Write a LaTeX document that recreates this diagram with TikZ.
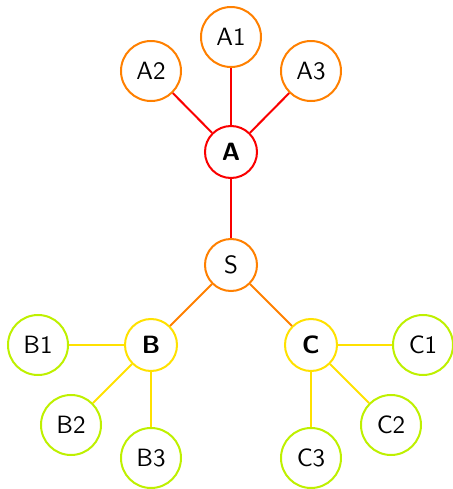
\documentclass[tikz,border=0pt]{standalone}
\usepackage{tikz}

\definecolor{treeRed}{RGB}{250,0,0}
\definecolor{treeOrange}{RGB}{255,128,0}
\definecolor{treeYellow}{RGB}{255,225,0}
\definecolor{treeLime}{RGB}{190,240,0}

\tikzset{
  knot/.style={circle, draw, line width=0.8pt, font=\sffamily, inner sep=0pt},
  bigknot/.style={knot, minimum size=24pt},
  smallknot/.style={knot, minimum size=20.8pt},
  link/.style={line width=0.8pt}
}

\begin{document}
\begin{tikzpicture}[x=0.4pt, y=0.4pt]
\useasboundingbox (0,0) rectangle (453,489);

% center
\node[smallknot, draw=treeOrange] (S) at (231,224) {S};

% upper branch
\node[smallknot, draw=treeRed, font=\sffamily\bfseries] (A) at (231,337) {A};
\node[bigknot, draw=treeOrange] (A1) at (231,452) {A1};
\node[bigknot, draw=treeOrange] (A2) at (151,418) {A2};
\node[bigknot, draw=treeOrange] (A3) at (311,418) {A3};

% left branch
\node[smallknot, draw=treeYellow, font=\sffamily\bfseries] (B) at (151,144) {B};
\node[bigknot, draw=treeLime] (B1) at (38,144) {B1};
\node[bigknot, draw=treeLime] (B2) at (71,64) {B2};
\node[bigknot, draw=treeLime] (B3) at (151,31) {B3};

% right branch
\node[smallknot, draw=treeYellow, font=\sffamily\bfseries] (C) at (311,144) {C};
\node[bigknot, draw=treeLime] (C1) at (423,144) {C1};
\node[bigknot, draw=treeLime] (C2) at (391,64) {C2};
\node[bigknot, draw=treeLime] (C3) at (311,31) {C3};

% links
\draw[link, treeRed] (A) -- (S);
\foreach \k in {A1,A2,A3}
  \draw[link, treeRed] (A) -- (\k);
\draw[link, treeOrange] (S) -- (B);
\draw[link, treeOrange] (S) -- (C);
\foreach \k in {B1,B2,B3}
  \draw[link, treeYellow] (B) -- (\k);
\foreach \k in {C1,C2,C3}
  \draw[link, treeYellow] (C) -- (\k);

\end{tikzpicture}
\end{document}
